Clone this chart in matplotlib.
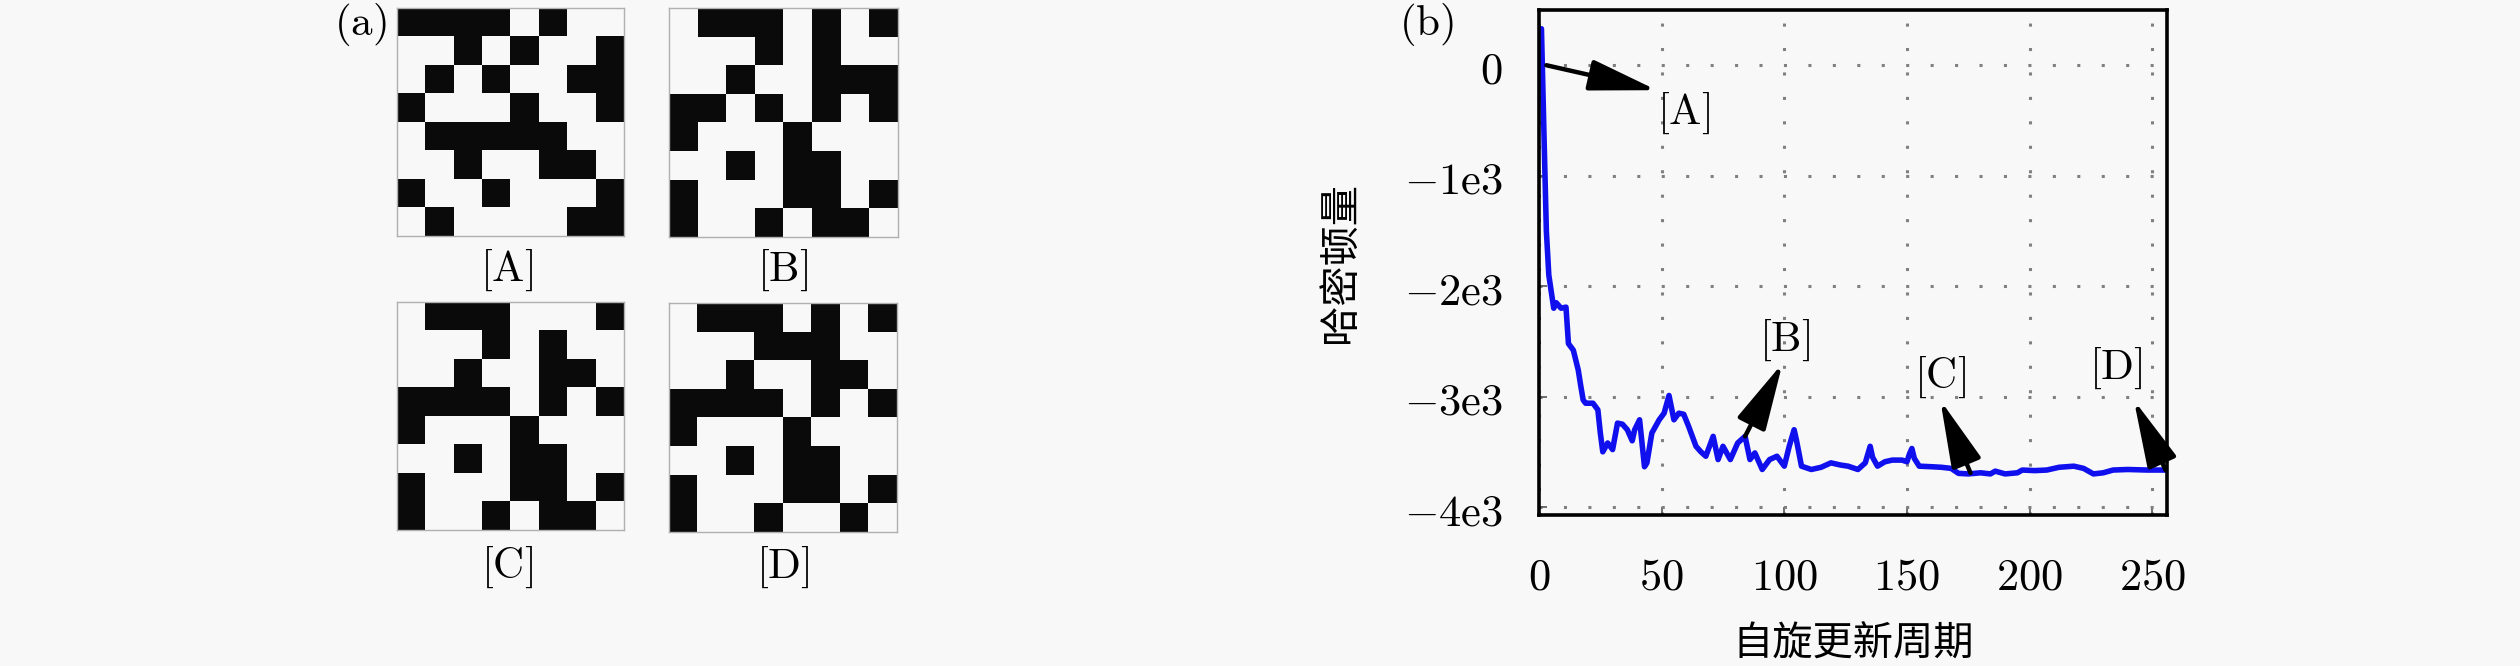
import matplotlib
matplotlib.use("Agg")
import matplotlib.pyplot as plt
import numpy as np

plt.rcParams['mathtext.fontset'] = 'cm'
plt.rcParams['font.family'] = ['Noto Sans CJK SC', 'DejaVu Sans']
plt.rcParams['axes.unicode_minus'] = True

# 8x8 spin patterns, 1 = black
spins_A = [[1, 1, 1, 1, 0, 1, 0, 0],
           [0, 0, 1, 0, 1, 0, 0, 1],
           [0, 1, 0, 1, 0, 0, 1, 1],
           [1, 0, 0, 0, 1, 0, 0, 1],
           [0, 1, 1, 1, 1, 1, 0, 0],
           [0, 0, 1, 0, 0, 1, 1, 0],
           [1, 0, 0, 1, 0, 0, 0, 1],
           [0, 1, 0, 0, 0, 0, 1, 1]]
spins_B = [[0, 1, 1, 1, 0, 1, 0, 1],
           [0, 0, 0, 1, 0, 1, 0, 0],
           [0, 0, 1, 0, 0, 1, 1, 1],
           [1, 1, 0, 1, 0, 1, 0, 1],
           [1, 0, 0, 0, 1, 0, 0, 0],
           [0, 0, 1, 0, 1, 1, 0, 0],
           [1, 0, 0, 0, 1, 1, 0, 1],
           [1, 0, 0, 1, 0, 1, 1, 0]]
spins_C = [[0, 1, 1, 1, 0, 0, 0, 1],
           [0, 0, 0, 1, 0, 1, 0, 0],
           [0, 0, 1, 0, 0, 1, 1, 0],
           [1, 1, 1, 1, 0, 1, 0, 1],
           [1, 0, 0, 0, 1, 0, 0, 0],
           [0, 0, 1, 0, 1, 1, 0, 0],
           [1, 0, 0, 0, 1, 1, 0, 1],
           [1, 0, 0, 1, 0, 1, 1, 0]]
spins_D = [[0, 1, 1, 1, 0, 1, 0, 1],
           [0, 0, 0, 1, 1, 1, 0, 0],
           [0, 0, 1, 0, 0, 1, 1, 0],
           [1, 1, 1, 1, 0, 1, 0, 1],
           [1, 0, 0, 0, 1, 0, 0, 0],
           [0, 0, 1, 0, 1, 1, 0, 0],
           [1, 0, 0, 0, 1, 1, 0, 1],
           [1, 0, 0, 1, 0, 0, 1, 0]]
pattern_names = ['A', 'B', 'C', 'D']

# Hamiltonian vs spin update cycle
cycle = [0, 1, 2, 3, 4, 5, 6, 7, 9, 11, 12, 14, 15, 16, 17, 18, 19, 20, 22, 24,
         25, 26, 28, 30, 32, 34, 36, 38, 39, 41, 43, 44, 46, 49, 51, 53, 54, 55,
         57, 59, 61, 64, 66, 68, 71, 73, 75, 78, 81, 84, 86, 88, 91, 94, 97, 100,
         102, 104, 105, 107, 111, 115, 119, 123, 126, 130, 133, 135, 136, 138,
         141, 144, 148, 150, 151, 152, 153, 155, 160, 164, 168, 171, 175, 180,
         184, 186, 190, 195, 197, 202, 207, 212, 218, 222, 226, 230, 234, 240,
         248, 256]
hamiltonian = [300, 330, -600, -1500, -1900, -2050, -2200, -2150, -2200, -2190,
               -2520, -2580, -2670, -2760, -2900, -3030, -3060, -3060, -3060,
               -3120, -3330, -3500, -3420, -3480, -3240, -3250, -3300, -3400,
               -3300, -3210, -3635, -3600, -3330, -3210, -3150, -2990, -3100,
               -3210, -3150, -3160, -3270, -3450, -3500, -3540, -3360, -3570,
               -3450, -3570, -3420, -3360, -3570, -3510, -3660, -3570, -3540,
               -3630, -3450, -3300, -3400, -3630, -3660, -3640, -3600, -3620,
               -3630, -3660, -3600, -3450, -3550, -3630, -3590, -3575, -3575,
               -3590, -3520, -3470, -3560, -3630, -3635, -3640, -3650, -3695,
               -3700, -3690, -3700, -3675, -3700, -3690, -3665, -3670, -3665,
               -3640, -3630, -3650, -3700, -3690, -3665, -3660, -3665, -3665]

x_ticks = [0, 50, 100, 150, 200, 250]
y_ticks = [0, -1000, -2000, -3000, -4000]
y_tick_labels = [r'$0$', r'$-1\mathrm{e}3$', r'$-2\mathrm{e}3$', r'$-3\mathrm{e}3$', r'$-4\mathrm{e}3$']

# arrows: (label, text position, arrow head, arrow tail)
notes = [('A', (59, -434), (48, -226), (3, 0)),
         ('B', (100, -2489), (99.3, -2697), (84, -3360)),
         ('C', (163.6, -2824), (163.6, -3032), (175.9, -3692)),
         ('D', (235, -2742), (242.5, -3032), (255.4, -3665))]

bg = '#f8f8f8'
W, H = 2520, 666
fig = plt.figure(figsize=(W / 100, H / 100), dpi=100, facecolor=bg)

def px_axes(x0, y0, x1, y1):
    return fig.add_axes([x0 / W, 1 - y1 / H, (x1 - x0) / W, (y1 - y0) / H])

# --- left panel: spin patterns
boxes = [(397, 8, 624, 236), (669, 8, 898, 237), (397, 302, 624, 530), (669, 303, 897, 532)]
label_pos = [(507, 270), (783, 270), (507, 567), (783, 567)]
cmap = matplotlib.colors.ListedColormap([bg, '#0a0a0a'])
for spins, box, name, lp in zip([spins_A, spins_B, spins_C, spins_D], boxes, pattern_names, label_pos):
    ax = px_axes(*box)
    ax.imshow(np.array(spins), cmap=cmap, vmin=0, vmax=1, aspect='auto', interpolation='nearest')
    ax.set_xticks([])
    ax.set_yticks([])
    for s in ax.spines.values():
        s.set_color('#b0b0b0')
        s.set_linewidth(1)
    fig.text(lp[0] / W, 1 - lp[1] / H, r'$\mathrm{[%s]}$' % name, fontsize=31,
             ha='center', va='center')

fig.text(360 / W, 1 - 25 / H, r'$\mathrm{(a)}$', fontsize=31, ha='center', va='center')
fig.text(1427 / W, 1 - 25 / H, r'$\mathrm{(b)}$', fontsize=31, ha='center', va='center')

# --- right panel: Hamiltonian curve
ax = px_axes(1539, 10, 2167, 515)
ax.set_facecolor(bg)
ax.plot(cycle, hamiltonian, color='#1010ee', lw=4, zorder=3)
ax.set_xlim(0, 256)
ax.set_ylim(-4072, 500)
ax.set_xticks(x_ticks)
ax.set_xticklabels([r'$%d$' % t for t in x_ticks])
ax.set_yticks(y_ticks)
ax.set_yticklabels(y_tick_labels)
ax.tick_params(direction='in', length=6, width=1.2, labelsize=32, color='#555555')
ax.tick_params(axis='x', pad=28)
ax.tick_params(axis='y', pad=26)
ax.grid(True, color='#808080', lw=2.2, linestyle=(0, (1, 7)))
for s in ax.spines.values():
    s.set_linewidth(2.6)
    s.set_zorder(5)

for name, tp, head, tail in notes:
    ax.annotate('', xy=head, xytext=tail,
                arrowprops=dict(arrowstyle='-|>,head_length=1.3,head_width=0.3',
                                mutation_scale=32, lw=3.2, color='k',
                                shrinkA=0, shrinkB=0), zorder=6)
    ax.text(tp[0], tp[1], r'$\mathrm{[%s]}$' % name, fontsize=31, ha='center', va='center',
            zorder=6)

ax.set_xlabel('自旋更新周期', fontsize=29)
ax.set_ylabel('哈密顿量', fontsize=29)
ax.xaxis.set_label_coords(0.5, -0.215)
ax.yaxis.set_label_coords((1361 - 1539) / (2167 - 1539), 0.5)

fig.savefig('out.png', dpi=100, facecolor=bg)
